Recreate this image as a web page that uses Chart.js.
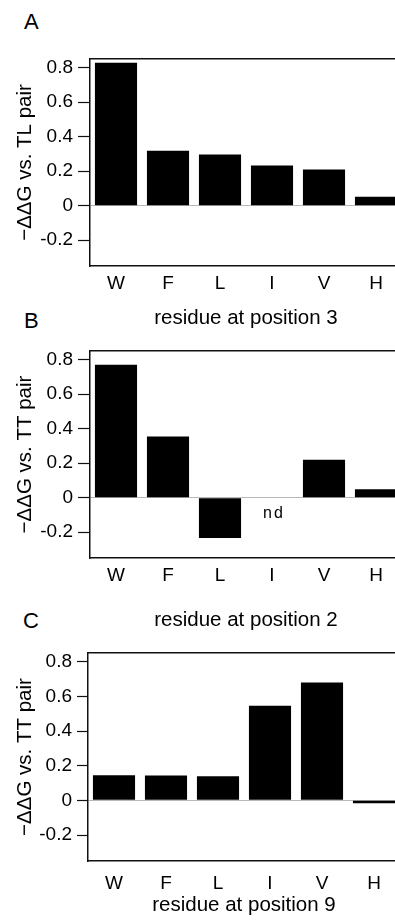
<!DOCTYPE html>
<html>
<head>
<meta charset="utf-8">
<script src="https://cdn.jsdelivr.net/npm/chart.js@4.4.1/dist/chart.umd.min.js"></script>
<style>
    html, body {
        margin: 0;
        padding: 0;
        background: #fff;
        overflow: hidden;
        width: 395px;
        height: 920px;
    }
    .panel {
        position: absolute;
        left: 0;
    }
    .letter {
        position: absolute;
        font: 22px "Liberation Sans", Arial, sans-serif;
        line-height: 22px;
        color: #000;
    }
</style>
</head>
<body>
<div class="letter" style="left:24px; top:11px;">A</div>
<div class="letter" style="left:24px; top:310px;">B</div>
<div class="letter" style="left:23px; top:610px;">C</div>

<canvas id="chartA" class="panel" style="top:0px" width="404" height="331"></canvas>
<canvas id="chartB" class="panel" style="top:331px" width="404" height="302"></canvas>
<canvas id="chartC" class="panel" style="top:633px" width="404" height="285"></canvas>

<script>
// residues tested at each position
const residues = ["W", "F", "L", "I", "V", "H"];

// -ΔΔG values (null = not determined)
const panelA = [0.828, 0.318, 0.297, 0.233, 0.21, 0.052];
const panelB = [0.77, 0.355, -0.234, null, 0.219, 0.049];
const panelC = [0.145, 0.143, 0.139, 0.545, 0.68, -0.017];

const yTickValues = [-0.2, 0, 0.2, 0.4, 0.6, 0.8];
const yRange = [-0.35, 0.85];

const FONT = "'Liberation Sans', Arial, Helvetica, sans-serif";
Chart.defaults.font.family = FONT;
Chart.defaults.color = "#000";

// writes "nd" where a value is missing
const ndLabelPlugin = {
    id: "ndLabel",
    afterDatasetsDraw(chart) {
        const xs = chart.scales.x;
        const ys = chart.scales.y;
        const c = chart.ctx;
        const data = chart.data.datasets[0].data;
        c.save();
        c.font = "16px " + FONT;
        c.letterSpacing = "2px";
        c.fillStyle = "#000";
        c.textAlign = "center";
        c.textBaseline = "middle";
        data.forEach(function (v, i) {
            if (v === null) {
                c.fillText("nd", xs.getPixelForValue(i) + 2, ys.getPixelForValue(-0.09));
            }
        });
        c.restore();
    }
};

function buildPanel(id, values, yTitle, xTitle, lay) {
    const ctx = document.getElementById(id);
    if (!ctx) return;

    new Chart(ctx, {
        type: "bar",
        data: {
            labels: residues,
            datasets: [{
                data: values,
                backgroundColor: "#000",
                borderWidth: 0,
                barPercentage: 0.81,
                categoryPercentage: 1
            }]
        },
        options: {
            responsive: false,
            animation: false,
            layout: {
                padding: {top: lay.top, right: lay.right, bottom: 0, left: 0}
            },
            plugins: {
                legend: {display: false},
                tooltip: {enabled: false}
            },
            scales: {
                x: {
                    type: "category",
                    offset: true,
                    grid: {display: false, drawTicks: false},
                    border: {display: true, color: "#111", width: 1.5},
                    ticks: {
                        color: "#000",
                        font: {size: 19},
                        padding: lay.tickPad,
                        maxRotation: 0,
                        autoSkip: false
                    },
                    title: {
                        display: true,
                        text: xTitle,
                        color: "#000",
                        font: {size: 20.5},
                        padding: {top: 0, bottom: 0}
                    },
                    afterFit: function (s) { s.height = lay.xHeight; }
                },
                xTop: {
                    type: "category",
                    position: "top",
                    grid: {display: false, drawTicks: false},
                    ticks: {display: false},
                    border: {display: true, color: "#111", width: 1.5},
                    afterFit: function (s) { s.height = 0; }
                },
                y: {
                    min: yRange[0],
                    max: yRange[1],
                    afterBuildTicks: function (s) {
                        s.ticks = yTickValues.map(function (v) { return {value: v}; });
                    },
                    grid: {
                        drawOnChartArea: true,
                        color: function (c) {
                            return c.tick && c.tick.value === 0 ? "#b8b8b8" : "rgba(0,0,0,0)";
                        },
                        lineWidth: 1,
                        tickColor: "#111",
                        tickLength: lay.tickLen,
                        tickWidth: 1.2
                    },
                    border: {color: "#111", width: 1.5},
                    ticks: {
                        color: "#000",
                        font: {size: 19},
                        padding: 5,
                        callback: function (v) {
                            return v === 0 ? "0" : v.toFixed(1);
                        }
                    },
                    title: {
                        display: true,
                        text: yTitle,
                        color: "#000",
                        font: {size: 20.5},
                        padding: {top: 13, bottom: 0}
                    },
                    afterFit: function (s) { s.width = lay.yWidth; }
                }
            }
        },
        plugins: [ndLabelPlugin]
    });
}

buildPanel("chartA", panelA, "−ΔΔG vs. TL pair", "residue at position 3",
    {top: 59, right: 2, yWidth: 90, xHeight: 65, tickPad: 6, tickLen: 12});
buildPanel("chartB", panelB, "−ΔΔG vs. TT pair", "residue at position 2",
    {top: 20, right: 2, yWidth: 90, xHeight: 75, tickPad: 6.5, tickLen: 12});
buildPanel("chartC", panelC, "−ΔΔG vs. TT pair", "residue at position 9",
    {top: 20, right: 4, yWidth: 88, xHeight: 57, tickPad: 11.5, tickLen: 11});
</script>
</body>
</html>
